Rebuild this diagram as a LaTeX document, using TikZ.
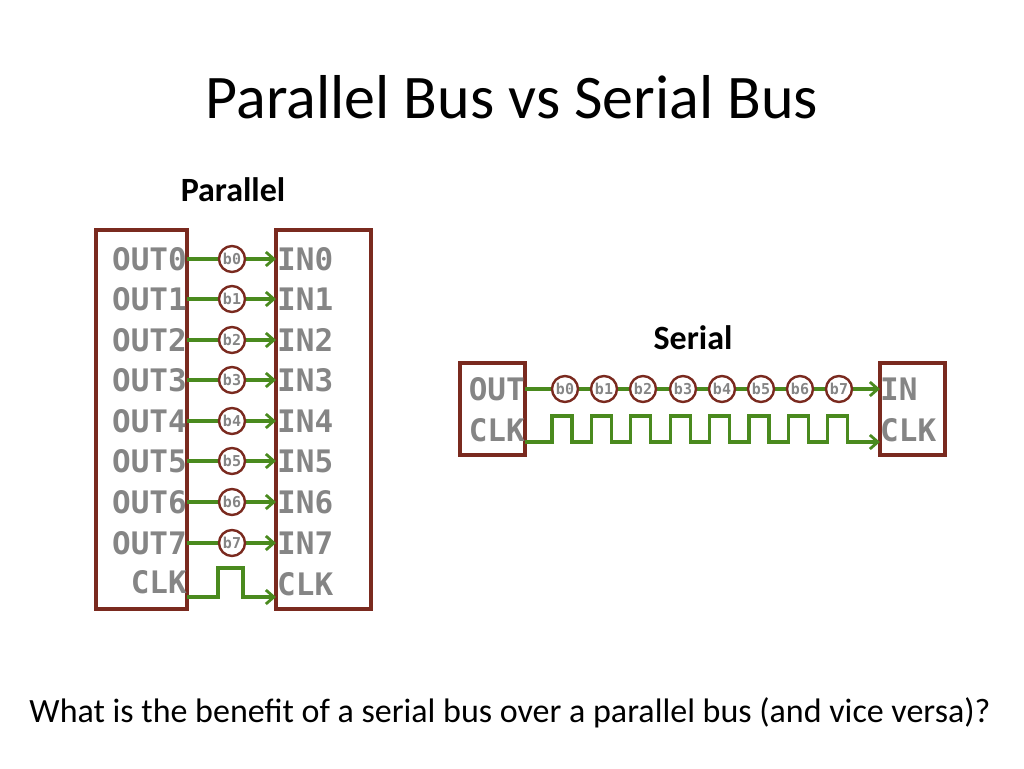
\documentclass[tikz,border=0pt]{standalone}
\usepackage{fontspec}
\setmainfont{Carlito}
\newfontfamily\pinfont{DejaVu Sans Mono}
\usetikzlibrary{arrows.meta}
\definecolor{boxc}{HTML}{7A2A1F}
\definecolor{wire}{HTML}{4A8A1E}
\definecolor{pin}{HTML}{858585}
\begin{document}
\begin{tikzpicture}[x=1pt,y=-1pt,
  chip/.style={draw=boxc,line width=3.4pt},
  wireln/.style={draw=wire,line width=3.2pt},
  arr/.style={wireln,-{Straight Barb[length=8pt,width=14pt,line width=2.8pt]}},
  bit/.style={circle,draw=boxc,line width=2.4pt,fill=white,minimum size=26pt,inner sep=0pt,text=pin,font=\pinfont\bfseries\fontsize{15}{15}\selectfont},
  pinl/.style={text=pin,font=\pinfont\bfseries\fontsize{31}{31}\selectfont,inner sep=1pt}]
\useasboundingbox (0,0) rectangle (1024,768);
\node[font=\fontsize{62}{62}\selectfont] (title) at (512,97) {Parallel Bus vs Serial Bus};
\node[font=\bfseries\fontsize{34}{34}\selectfont] (plab) at (233,190) {Parallel};
\node[font=\bfseries\fontsize{34}{34}\selectfont] (slab) at (693,338) {Serial};
\node[font=\fontsize{34}{34}\selectfont] (q) at (510,713) {What is the benefit of a serial bus over a parallel bus (and vice versa)?};
% parallel
\draw[chip] (96,230) rectangle (187,609);
\draw[chip] (276,230) rectangle (371,609);
\foreach \i/\y in {0/259,1/299,2/340,3/380,4/421,5/461,6/502,7/543}{
  \node[pinl,anchor=east] (o\i) at (188,\y) {OUT\i};
  \node[pinl,anchor=west] (n\i) at (276,\y) {IN\i};
  \coordinate (ps\i) at (187,\y); \coordinate (pe\i) at (276,\y);
  \draw[arr] (ps\i) -- (pe\i);
  \node[bit] (pb\i) at (232,\y) {b\i};
}
\node[pinl,anchor=east] (oclk) at (188,582) {CLK};
\node[pinl,anchor=west] (nclk) at (276,584) {CLK};
\coordinate (pcs) at (187,597); \coordinate (pce) at (276,597);
\draw[arr] (pcs) -- (218,597) -- (218,568) -- (243,568) -- (243,597) -- (pce);
% serial
\draw[chip] (460,363) rectangle (525,455);
\draw[chip] (880,363) rectangle (945,455);
\node[pinl,anchor=east] (sout) at (526,389) {OUT};
\node[pinl,anchor=east] (sclk) at (526,430) {CLK};
\node[pinl,anchor=west] (sin) at (879,389) {IN};
\node[pinl,anchor=west] (sclk2) at (879,430) {CLK};
\coordinate (ss) at (525,389); \coordinate (se) at (880,389);
\draw[arr] (ss) -- (se);
\foreach \i/\x in {0/565,1/604,2/643,3/683,4/722,5/761,6/800,7/839}{
  \node[bit] (sb\i) at (\x,389) {b\i};
}
\coordinate (cs) at (525,442); \coordinate (ce) at (880,442);
\draw[arr] (cs)
  \foreach \k in {0,...,7}{ -- ({552+39.4*\k},442) -- ({552+39.4*\k},416) -- ({572+39.4*\k},416) -- ({572+39.4*\k},442) }
  -- (ce);
\end{tikzpicture}
\end{document}
